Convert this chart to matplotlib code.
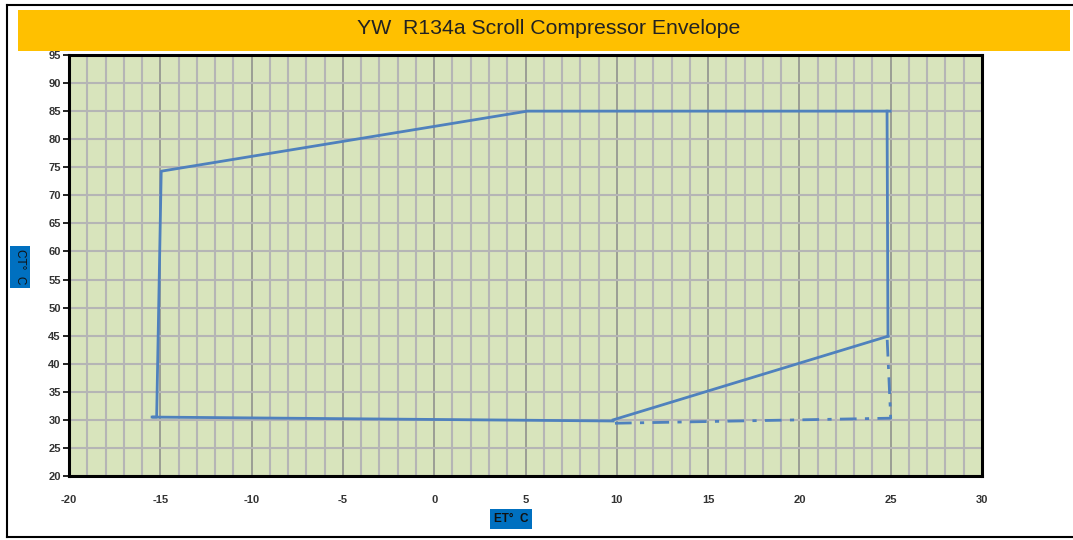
import numpy as np
import matplotlib
matplotlib.use("Agg")
import matplotlib.pyplot as plt
from matplotlib.patches import Rectangle
from matplotlib.lines import Line2D

plt.rcParams["font.family"] = ["Liberation Sans", "DejaVu Sans"]
plt.rcParams["axes.unicode_minus"] = False

# envelope data (ET in deg C, CT in deg C)
env_et = [-15.45, -15.2, -14.95, 5.1, 25.05]
env_ct = [30.5, 30.5, 74.3, 85.0, 85.0]
right_et = [24.8, 24.85]
right_ct = [85.0, 44.9]
low_et = [24.85, 9.8]
low_ct = [44.9, 30.0]
bottom_et = [9.8, -15.45]
bottom_ct = [29.8, 30.5]
# dash-dot limit
dd_et = [9.9, 25.0, 24.8]
dd_ct = [29.4, 30.3, 44.9]

xticks = list(range(-20, 31, 5))
yticks = list(range(20, 96, 5))

fig = plt.figure(figsize=(10.73, 5.40), dpi=100)
fig.patch.set_facecolor("white")

# outer border
fig.add_artist(Line2D([7 / 1073, 7 / 1073], [3 / 540, 535 / 540], color="black", lw=1.5,
                      transform=fig.transFigure))
fig.add_artist(Line2D([7 / 1073, 1.0], [535 / 540, 535 / 540], color="black", lw=1.5,
                      transform=fig.transFigure))
fig.add_artist(Line2D([7 / 1073, 1.0], [3 / 540, 3 / 540], color="black", lw=1.5,
                      transform=fig.transFigure))

# title banner
fig.add_artist(Rectangle((18 / 1073, 1 - 51 / 540), (1070 - 18) / 1073, 41 / 540,
                         facecolor="#FFC000", edgecolor="none", transform=fig.transFigure))
fig.text(549 / 1073, 1 - 28 / 540, "YW  R134a Scroll Compressor Envelope",
         ha="center", va="center", fontsize=15.3, color="#222222")

ax = fig.add_axes([69 / 1073, 1 - 476 / 540, (982 - 69) / 1073, (476 - 55) / 540])
ax.set_facecolor("#D8E4BC")
ax.set_xlim(-20, 30)
ax.set_ylim(20, 95)

# grid
for v in np.arange(-20, 31, 1):
    if v % 5 == 0:
        ax.axvline(v, color="#8A8A8A", lw=1.1, zorder=1)
    else:
        ax.axvline(v, color="#B5B5B5", lw=1.5, zorder=1)
for v in yticks:
    ax.axhline(v, color="#B5B5B5", lw=1.5, zorder=1)

blue = "#4F81BD"
ax.plot(env_et, env_ct, color=blue, lw=2.0, zorder=3, solid_capstyle="butt")
ax.plot(right_et, right_ct, color=blue, lw=2.0, zorder=3)
ax.plot(low_et, low_ct, color=blue, lw=2.0, zorder=3)
ax.plot(bottom_et, bottom_ct, color=blue, lw=2.0, zorder=3)
ax.plot(dd_et, dd_ct, color=blue, lw=2.0, zorder=3, linestyle=(0, (6, 3, 1.5, 3)))

ax.set_xticks(xticks)
ax.set_yticks(yticks)
ax.tick_params(axis="y", direction="out", length=4, width=1.2, labelsize=8, pad=2,
               labelcolor="#333333")
ax.tick_params(axis="x", length=0, labelsize=8, pad=14, labelcolor="#333333")
for lab in ax.get_xticklabels() + ax.get_yticklabels():
    lab.set_fontweight("bold")
for s in ax.spines.values():
    s.set_color("black")
    s.set_linewidth(2.2)

# axis title boxes
fig.text(20 / 1073, 1 - 267 / 540, "CT\u00b0  C", rotation=270, ha="center", va="center",
         fontsize=8.5, color="#111111",
         bbox=dict(boxstyle="square,pad=0.3", facecolor="#0070C0", edgecolor="none"))
fig.text(511 / 1073, 1 - 519 / 540, "ET\u00b0  C", ha="center", va="center",
         fontsize=8.5, fontweight="bold", color="#111111",
         bbox=dict(boxstyle="square,pad=0.35", facecolor="#0070C0", edgecolor="none"))

fig.savefig("out.png", dpi=100)
